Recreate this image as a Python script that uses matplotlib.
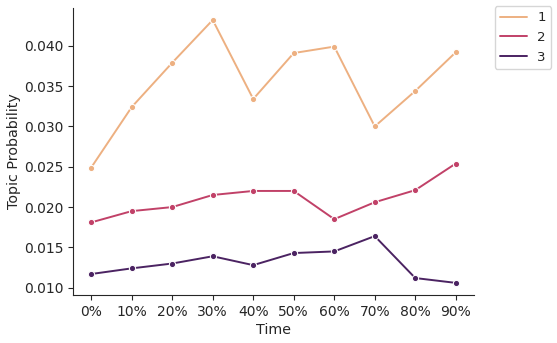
import numpy as np
import seaborn as sns
from matplotlib import pyplot as plt

# topic probability over time
time_labels = ['0%', '10%', '20%', '30%', '40%', '50%', '60%', '70%', '80%', '90%']
topic_1 = [0.0249, 0.0324, 0.0379, 0.0432, 0.0334, 0.0391, 0.0399, 0.0300, 0.0344, 0.0392]
topic_2 = [0.0181, 0.0195, 0.0200, 0.0215, 0.0220, 0.0220, 0.0185, 0.0206, 0.0221, 0.0254]
topic_3 = [0.0117, 0.0124, 0.0130, 0.0139, 0.0128, 0.0143, 0.0145, 0.0164, 0.0112, 0.0106]
topic_names = ['1', '2', '3']

sns.set_style('ticks')
cmap = sns.color_palette('flare', as_cmap=True)
colors = [cmap(v) for v in [0.0, 0.5, 1.0]]

fig, ax = plt.subplots(figsize=(5.57, 3.43), dpi=100)
x = np.arange(len(time_labels))
for vals, name, c in zip([topic_1, topic_2, topic_3], topic_names, colors):
    ax.plot(x, vals, color=c, lw=1.4, marker='o', ms=4.5, mec='white', mew=0.75, label=name)

ax.set_xticks(x)
ax.set_xticklabels(time_labels, fontsize=10)
ax.tick_params(axis='y', labelsize=10)
ax.set_xlabel('Time', fontsize=10.3, labelpad=3)
ax.set_ylabel('Topic Probability', fontsize=10.3, labelpad=2)
ax.set_ylim(0.0091, 0.0447)
sns.despine(ax=ax)

leg = ax.legend(loc='upper left', bbox_to_anchor=(1.035, 1.03), fontsize=9.6, handlelength=2)
for h in leg.get_lines():
    h.set_marker('')

fig.subplots_adjust(left=0.131, right=0.851, top=0.977, bottom=0.14)
fig.savefig('out.png')
